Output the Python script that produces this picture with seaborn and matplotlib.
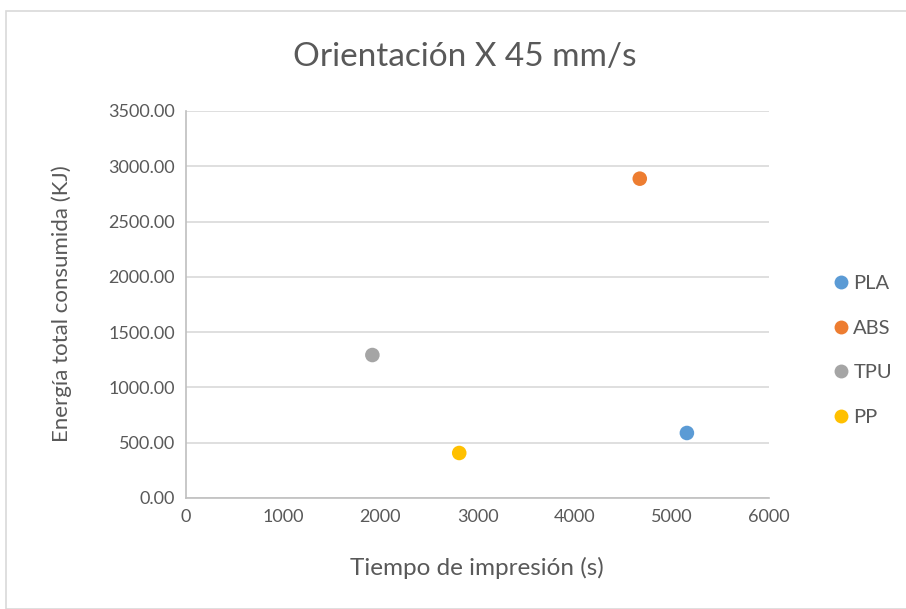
import pandas as pd
import matplotlib.pyplot as plt
import seaborn as sns
from matplotlib.patches import Rectangle
from matplotlib.ticker import FormatStrFormatter

# Data
materials = ['PLA', 'ABS', 'TPU', 'PP']
print_time = [5155, 4670, 1918, 2812]       # Tiempo de impresión (s)
energy = [588, 2888, 1293, 407]              # Energía total consumida (KJ)
colors = ['#5B9BD5', '#ED7D31', '#A5A5A5', '#FFC000']
x_ticks = [0, 1000, 2000, 3000, 4000, 5000, 6000]
y_ticks = [0, 500, 1000, 1500, 2000, 2500, 3000, 3500]

df = pd.DataFrame({'Material': materials, 'Tiempo': print_time, 'Energia': energy})

sns.set_style('white')
plt.rcParams['font.family'] = ['Lato', 'DejaVu Sans']
text_color = '#595959'

fig = plt.figure(figsize=(9.06, 6.09), dpi=100)
fig.patches.append(Rectangle((6 / 906, 0), 1, 1 - 11 / 609, transform=fig.transFigure,
                             fill=False, edgecolor='#D9D9D9', linewidth=1.2))
ax = fig.add_axes([186 / 906, 1 - 498 / 609, 583 / 906, 387 / 609])

sns.scatterplot(data=df, x='Tiempo', y='Energia', hue='Material', hue_order=materials,
                palette=colors, s=110, edgecolor='none', ax=ax, legend=False, zorder=3)

ax.set_xlim(0, 6000)
ax.set_ylim(0, 3500)
ax.set_xticks(x_ticks)
ax.set_yticks(y_ticks)
ax.yaxis.set_major_formatter(FormatStrFormatter('%.2f'))
ax.grid(axis='y', color='#D9D9D9', linewidth=1.2)
ax.grid(axis='x', visible=False)
for side in ['top', 'right']:
    ax.spines[side].set_visible(False)
for side in ['left', 'bottom']:
    ax.spines[side].set_color('#BFBFBF')
    ax.spines[side].set_linewidth(1.2)
ax.tick_params(axis='both', length=0, labelsize=13, colors=text_color, pad=8)
ax.set_xlabel('')
ax.set_ylabel('')

fig.text(477 / 906, 1 - 568 / 609, 'Tiempo de impresión (s)', fontsize=17.5,
         color=text_color, ha='center', va='center')
fig.text(62 / 906, 1 - 304 / 609, 'Energía total consumida (KJ)', fontsize=16,
         color=text_color, ha='center', va='center', rotation=90)
fig.text(465 / 906, 1 - 57 / 609, 'Orientación X 45 mm/s', fontsize=24, color=text_color,
         ha='center', va='center')

handles = [plt.Line2D([], [], marker='o', linestyle='none', markersize=10,
                      markerfacecolor=c, markeredgecolor='none') for c in colors]
fig.legend(handles, materials, loc='upper left', bbox_to_anchor=(811 / 906, 1 - 257 / 609),
           frameon=False, fontsize=14.5, labelcolor=text_color, handletextpad=0.0,
           labelspacing=1.36, handlelength=1.2)

plt.savefig('out.png', dpi=100)
